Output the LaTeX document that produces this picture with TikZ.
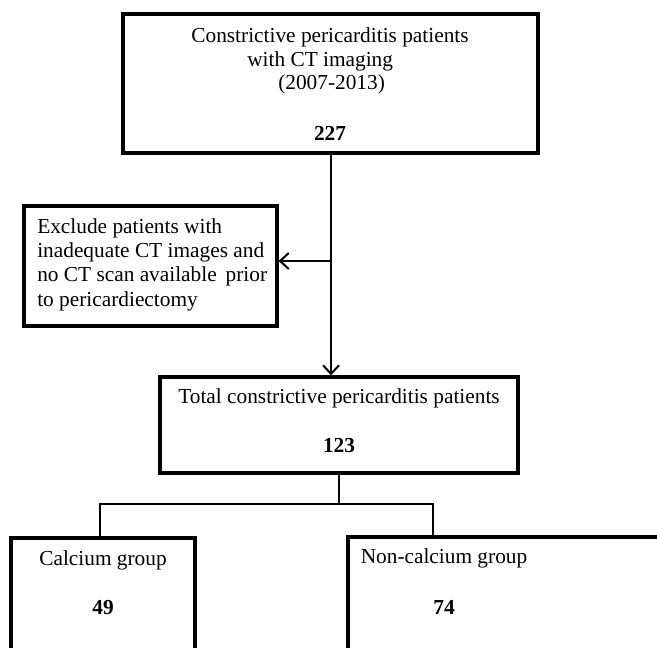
\documentclass[tikz,border=0pt]{standalone}
\usepackage{fontspec}
\setmainfont{Liberation Serif}
\usetikzlibrary{arrows.meta}
\begin{document}
\begin{tikzpicture}[x=0.75pt,y=-0.75pt,
  box/.style={draw=black,line width=2.4pt,fill=none,inner sep=0pt},
  lbl/.style={inner sep=0pt,font=\fontsize{16}{18.3}\selectfont},
  num/.style={inner sep=0pt,font=\fontsize{16}{18.3}\selectfont\bfseries},
  conn/.style={draw=black,line width=1.5pt},
  arr/.style={conn,-{Straight Barb[length=6.5pt,width=12pt,line width=1.5pt]}}]
\useasboundingbox (0,0) rectangle (657,647);
\clip (0,0) rectangle (657,647);
\fill[white] (0,0) rectangle (657,647);
% boxes
\node[box,minimum width=311.25pt,minimum height=104.25pt] (top) at (330.5,83.5) {};
\node[box,minimum width=189.75pt,minimum height=90pt] (excl) at (150.5,266) {};
\node[box,minimum width=268.5pt,minimum height=72pt] (total) at (339,425) {};
\node[box,minimum width=138pt,minimum height=120pt] (calc) at (103,618) {};
\node[box,minimum width=264pt,minimum height=120pt] (ncalc) at (524,617) {};
% texts
\node[lbl] (t1) at (330,37) {Constrictive pericarditis patients};
\node[lbl,anchor=west] (t2) at (247,61) {with CT imaging};
\node[lbl,anchor=west] (t3) at (278,84) {(2007-2013)};
\node[num] (t4) at (330,133) {227};
\node[lbl,anchor=north west,align=left] (e1) at (37,218) {Exclude patients with\\inadequate CT images and\\no CT scan available\, prior\\to pericardiectomy};
\node[lbl] (tt1) at (339,398) {Total constrictive pericarditis patients};
\node[num] (tt2) at (339,446) {123};
\node[lbl] (c1) at (103,560) {Calcium group};
\node[num] (c2) at (103,608) {49};
\node[lbl] (n1) at (444,558) {Non-calcium group};
\node[num] (n2) at (444,607) {74};
% connectors
\coordinate (branch) at (331,261);
\coordinate (split) at (339,504);
\draw[arr] ([xshift=0.4pt]top.south) -- ([xshift=0.4pt]top.south |- total.north);
\draw[arr] (branch) -- (excl.east |- branch);
\draw[conn] (total.south) -- (split);
\draw[conn] ([xshift=-2.25pt]calc.north) |- (split);
\draw[conn] ([xshift=65.25pt]ncalc.north west) |- (split);
\end{tikzpicture}
\end{document}
